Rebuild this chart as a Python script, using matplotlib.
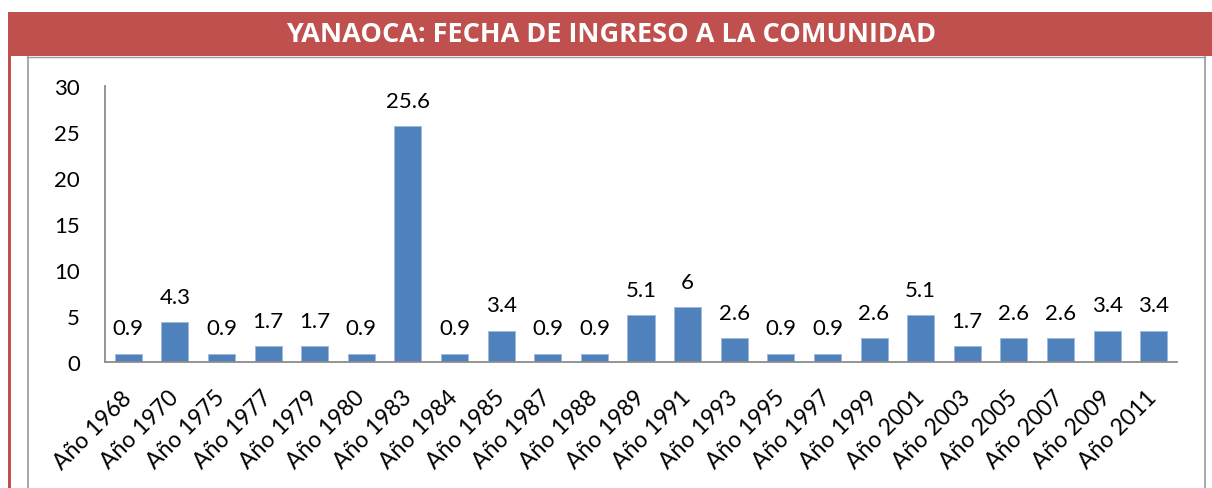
import matplotlib
matplotlib.use("Agg")
import matplotlib.pyplot as plt
from matplotlib.patches import Rectangle
from matplotlib.lines import Line2D

categories = ["Año 1968", "Año 1970", "Año 1975", "Año 1977", "Año 1979", "Año 1980",
              "Año 1983", "Año 1984", "Año 1985", "Año 1987", "Año 1988", "Año 1989",
              "Año 1991", "Año 1993", "Año 1995", "Año 1997", "Año 1999", "Año 2001",
              "Año 2003", "Año 2005", "Año 2007", "Año 2009", "Año 2011"]
values = [0.9, 4.3, 0.9, 1.7, 1.7, 0.9, 25.6, 0.9, 3.4, 0.9, 0.9, 5.1,
          6, 2.6, 0.9, 0.9, 2.6, 5.1, 1.7, 2.6, 2.6, 3.4, 3.4]
value_labels = ["0.9", "4.3", "0.9", "1.7", "1.7", "0.9", "25.6", "0.9", "3.4", "0.9", "0.9", "5.1",
                "6", "2.6", "0.9", "0.9", "2.6", "5.1", "1.7", "2.6", "2.6", "3.4", "3.4"]
yticks = [0, 5, 10, 15, 20, 25, 30]
title = "YANAOCA: FECHA DE INGRESO A LA COMUNIDAD"

W, H = 1212, 489
fig = plt.figure(figsize=(W / 100, H / 100), dpi=100)
fig.patch.set_facecolor("white")

def fx(px):
    return px / W

def fy(py):
    return 1 - py / H

# decorations
fig.add_artist(Rectangle((fx(8), fy(57)), fx(1212) - fx(8), fy(13) - fy(57),
                         transform=fig.transFigure, facecolor="#C0504D", edgecolor="none"))
fig.add_artist(Rectangle((fx(8), 0), fx(11) - fx(8), fy(57),
                         transform=fig.transFigure, facecolor="#C0504D", edgecolor="none"))
gray = "#9A9A9A"
fig.add_artist(Line2D([fx(27), fx(1205)], [fy(57.5), fy(57.5)], transform=fig.transFigure, color=gray, lw=1))
fig.add_artist(Line2D([fx(27.5), fx(27.5)], [0, fy(57.5)], transform=fig.transFigure, color=gray, lw=1.2))
fig.add_artist(Line2D([fx(1205), fx(1205)], [0, fy(57.5)], transform=fig.transFigure, color=gray, lw=1.2))

fig.text(fx(611), fy(35), title, ha="center", va="center", color="white",
         fontsize=19.5, fontweight="bold", family="Open Sans")

ax = fig.add_axes([fx(105), fy(363), fx(1177) - fx(105), fy(87) - fy(363)])
x = list(range(len(categories)))
bars = ax.bar(x, values, width=0.58, color="#4F81BD", edgecolor="#9DB9DE", linewidth=0.6)
ax.set_xlim(-0.5, len(categories) - 0.5)
ax.set_ylim(0, 30)
ax.set_yticks(yticks)
ax.set_yticklabels([str(t) for t in yticks], fontsize=16, family="Lato")
ax.set_xticks(x)
ax.set_xticklabels(categories, rotation=45, ha="right", va="center", rotation_mode="anchor",
                   fontsize=16.5, family="Lato")
ax.tick_params(axis="both", length=0)
ax.tick_params(axis="y", pad=18)
ax.tick_params(axis="x", pad=23)
for s in ["top", "right"]:
    ax.spines[s].set_visible(False)
for s in ["left", "bottom"]:
    ax.spines[s].set_color("#8C8C8C")
    ax.spines[s].set_linewidth(1.3)

for xi, v, lab in zip(x, values, value_labels):
    ax.annotate(lab, (xi, v), xytext=(0, 11), textcoords="offset points",
                ha="center", va="bottom", fontsize=16, family="Lato")

fig.savefig("out.png", dpi=100)
